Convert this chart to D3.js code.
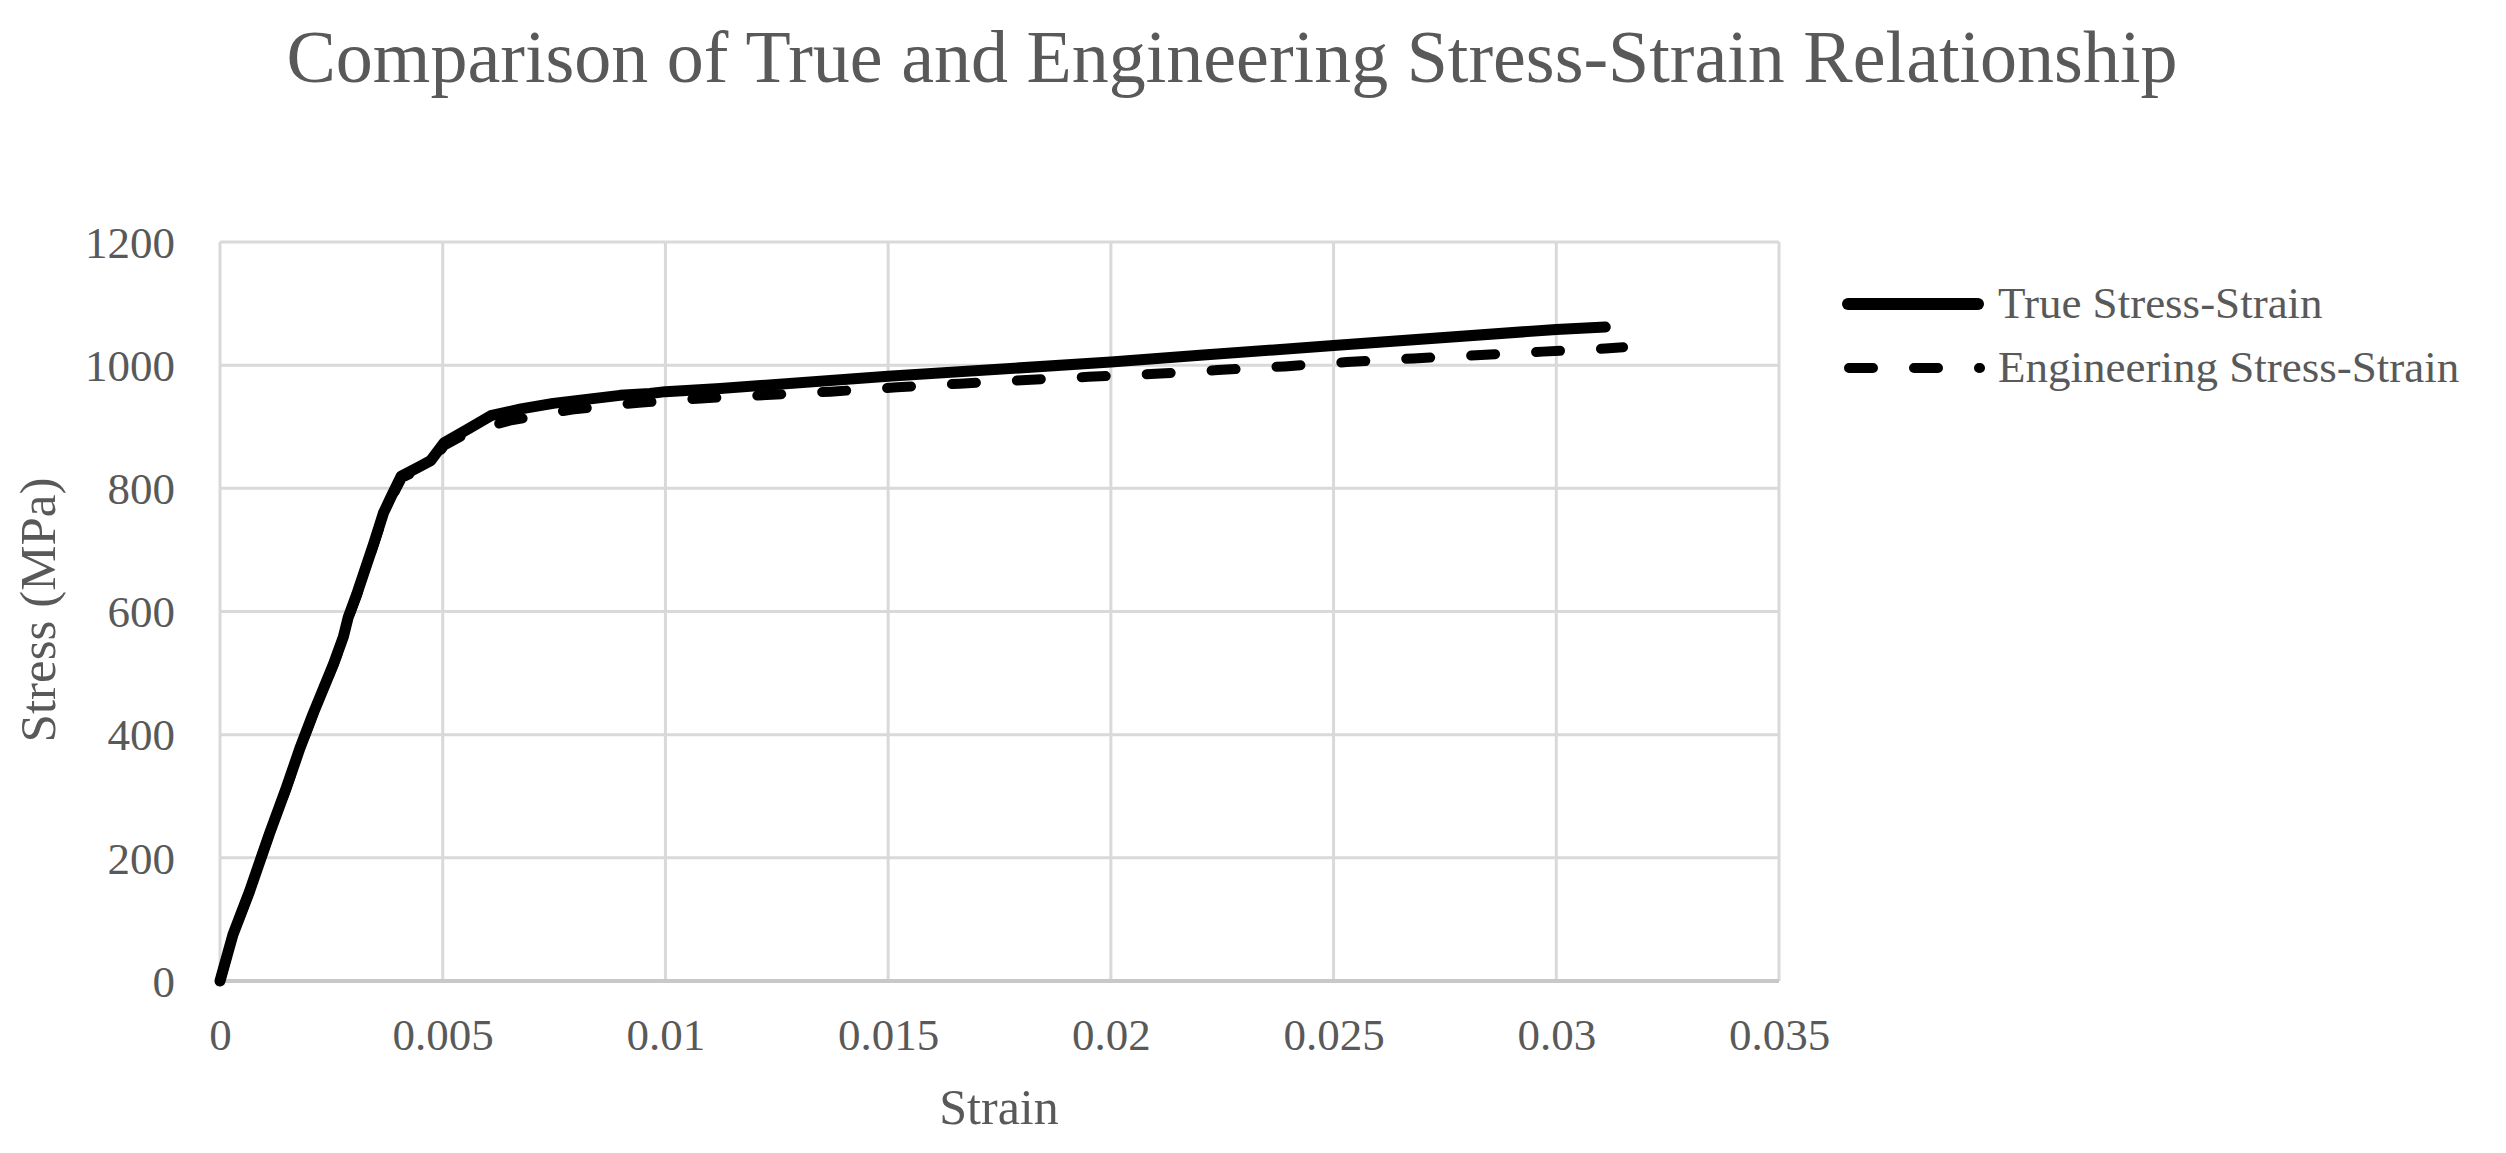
<!DOCTYPE html>
<html>
<head>
<meta charset="utf-8">
<script src="https://cdn.jsdelivr.net/npm/d3@7"></script>
<style>
  body { margin: 0; background: #ffffff; }
  text { font-family: "Liberation Serif", "Times New Roman", serif; fill: #595959; }
</style>
</head>
<body>
<script>
// series
const trueStrain = [0, 0.00029, 0.00066, 0.00111, 0.00149, 0.00179, 0.00209, 0.00255, 0.00277, 0.00288,
  0.00307, 0.00345, 0.00367, 0.00384, 0.00407, 0.0045, 0.00473, 0.00503, 0.00556, 0.00608,
  0.00676, 0.00748, 0.00898, 0.00965, 0.01, 0.01123, 0.015, 0.02, 0.022, 0.025, 0.03, 0.0311];
const trueStress = [0, 75, 145, 239, 314, 377, 434, 515, 559, 591,
  628, 710, 760, 786, 820, 836, 845, 874, 896, 918,
  929, 938, 951, 954, 957, 962, 982, 1005, 1016, 1032, 1058, 1062];

const engStrain = [0, 0.00029, 0.00066, 0.00111, 0.00149, 0.00179, 0.00209, 0.00255, 0.00277, 0.00288,
  0.00307, 0.00345, 0.00367, 0.00384, 0.00408, 0.00451, 0.00474, 0.00504, 0.00558, 0.0065,
  0.0079, 0.0094, 0.0108, 0.0137, 0.0152, 0.0166, 0.0181, 0.0195, 0.021, 0.0224,
  0.0239, 0.0253, 0.0268, 0.0282, 0.0297, 0.0311, 0.0315];
const engStress = [0, 75, 145, 239, 313, 376, 433, 514, 557, 589,
  626, 708, 757, 783, 817, 832, 841, 870, 891, 910,
  928, 939, 946, 957, 964, 970, 976, 981, 986, 992,
  998, 1005, 1011, 1016, 1022, 1027, 1029];

const xTicks = [0, 0.005, 0.01, 0.015, 0.02, 0.025, 0.03, 0.035];
const xTickLabels = ["0", "0.005", "0.01", "0.015", "0.02", "0.025", "0.03", "0.035"];
const yTicks = [0, 200, 400, 600, 800, 1000, 1200];
const yTickLabels = ["0", "200", "400", "600", "800", "1000", "1200"];
const seriesNames = ["True Stress-Strain", "Engineering Stress-Strain"];

let w = 2506;
let h = 1153;
const plot = { left: 220, right: 1779, top: 242, bottom: 981 };

let svg = d3.select("body").append("svg").attr("width", w).attr("height", h);

let x = d3.scaleLinear().domain([0, 0.035]).range([plot.left, plot.right]);
let y = d3.scaleLinear().domain([0, 1200]).range([plot.bottom, plot.top]);

//gridlines
svg.append("g")
  .selectAll("line.vgrid")
  .data(xTicks)
  .enter()
  .append("line")
  .attr("x1", d => x(d))
  .attr("x2", d => x(d))
  .attr("y1", plot.top)
  .attr("y2", plot.bottom)
  .attr("stroke", "#d9d9d9")
  .attr("stroke-width", 3);

svg.append("g")
  .selectAll("line.hgrid")
  .data(yTicks.slice(1))
  .enter()
  .append("line")
  .attr("x1", plot.left)
  .attr("x2", plot.right)
  .attr("y1", d => y(d))
  .attr("y2", d => y(d))
  .attr("stroke", "#d9d9d9")
  .attr("stroke-width", 3);

//x axis line
svg.append("line")
  .attr("x1", plot.left)
  .attr("x2", plot.right)
  .attr("y1", y(0))
  .attr("y2", y(0))
  .attr("stroke", "#c8c8c8")
  .attr("stroke-width", 4);

//axes (labels only)
let xAxis = d3.axisBottom(x).tickValues(xTicks).tickSize(0).tickPadding(0)
  .tickFormat((d, i) => xTickLabels[i]);
let gx = svg.append("g").attr("transform", `translate(0,${plot.bottom})`).call(xAxis);
gx.select(".domain").remove();
gx.selectAll("text")
  .attr("y", 69)
  .attr("dy", 0)
  .attr("font-size", 45)
  .attr("fill", "#595959");

let yAxis = d3.axisLeft(y).tickValues(yTicks).tickSize(0).tickPadding(45)
  .tickFormat((d, i) => yTickLabels[i]);
let gy = svg.append("g").attr("transform", `translate(${plot.left},0)`).call(yAxis);
gy.select(".domain").remove();
gy.selectAll("text")
  .attr("dy", "0.34em")
  .attr("font-size", 45)
  .attr("fill", "#595959");

//lines
let engData = engStrain.map((s, i) => [s, engStress[i]]);
let trueData = trueStrain.map((s, i) => [s, trueStress[i]]);

let line = d3.line().x(d => x(d[0])).y(d => y(d[1]));

svg.append("path")
  .datum(engData)
  .attr("d", line)
  .attr("fill", "none")
  .attr("stroke", "#000000")
  .attr("stroke-width", 10)
  .attr("stroke-linecap", "round")
  .attr("stroke-linejoin", "round")
  .attr("stroke-dasharray", "24 41");

svg.append("path")
  .datum(trueData)
  .attr("d", line)
  .attr("fill", "none")
  .attr("stroke", "#000000")
  .attr("stroke-width", 11)
  .attr("stroke-linecap", "round")
  .attr("stroke-linejoin", "round");

//titles
svg.append("text")
  .text("Comparison of True and Engineering Stress-Strain Relationship")
  .attr("x", 1232)
  .attr("y", 82)
  .attr("font-size", 74)
  .attr("text-anchor", "middle");

svg.append("text")
  .text("Strain")
  .attr("x", 999)
  .attr("y", 1124)
  .attr("font-size", 50)
  .attr("text-anchor", "middle");

svg.append("text")
  .text("Stress (MPa)")
  .attr("transform", "translate(55,610) rotate(-90)")
  .attr("font-size", 51)
  .attr("text-anchor", "middle");

//legend
let legend = svg.append("g");
legend.append("line")
  .attr("x1", 1848).attr("x2", 1978)
  .attr("y1", 304).attr("y2", 304)
  .attr("stroke", "#000000")
  .attr("stroke-width", 12)
  .attr("stroke-linecap", "round");
legend.append("line")
  .attr("x1", 1849).attr("x2", 1980)
  .attr("y1", 368).attr("y2", 368)
  .attr("stroke", "#000000")
  .attr("stroke-width", 10)
  .attr("stroke-linecap", "round")
  .attr("stroke-dasharray", "24 41");

legend.selectAll("text")
  .data(seriesNames)
  .enter()
  .append("text")
  .text(d => d)
  .attr("x", 1998)
  .attr("y", (d, i) => 318 + i * 64)
  .attr("font-size", 45);
</script>
</body>
</html>
